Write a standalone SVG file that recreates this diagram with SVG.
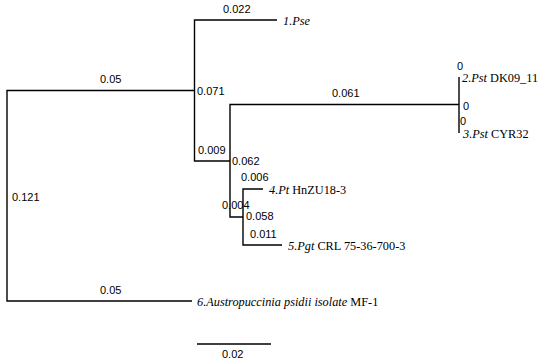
<svg xmlns="http://www.w3.org/2000/svg" width="550" height="364" viewBox="0 0 550 364">
<style>
.br{fill:none;stroke:#000;stroke-width:1.4}
.n{font-family:'Liberation Sans',Arial,sans-serif;font-size:11px;fill:#000}
.t{font-family:'Liberation Serif','DejaVu Serif',serif;font-size:12.3px;fill:#000}
.i{font-style:italic}
</style>
<rect width="550" height="364" fill="#fff"/>
<g id="connectors">
<path class="br" d="M194,90.5 H7 V301 H192"/>
<path class="br" d="M277,20 H194.5 V161 H230"/>
<path class="br" d="M459,104.5 H230 V217 H243"/>
<path class="br" d="M459,77 V133"/>
<path class="br" d="M263,189 H243 V245 H282"/>
<path class="br" d="M197,344 H271"/>
</g>
<g id="branch-labels">
<text class="n" x="100" y="83">0.05</text>
<text class="n" x="12" y="201">0.121</text>
<text class="n" x="100" y="294">0.05</text>
<text class="n" x="223" y="13">0.022</text>
<text class="n" x="197" y="95">0.071</text>
<text class="n" x="198" y="154">0.009</text>
<text class="n" x="232" y="165">0.062</text>
<text class="n" x="332" y="97">0.061</text>
<text class="n" x="457" y="70">0</text>
<text class="n" x="463" y="110">0</text>
<text class="n" x="460" y="125">0</text>
<text class="n" x="241" y="181">0.006</text>
<text class="n" x="222" y="209">0.004</text>
<text class="n" x="246" y="220">0.058</text>
<text class="n" x="250" y="238">0.011</text>
<text class="n" x="222" y="358">0.02</text>
</g>
<g id="taxon1"><text class="t" x="283" y="25"><tspan class="i">1.Pse</tspan></text></g>
<g id="taxon2"><text class="t" x="462" y="82"><tspan class="i">2.Pst</tspan> DK09_11</text></g>
<g id="taxon3"><text class="t" x="463" y="138"><tspan class="i">3.Pst</tspan> CYR32</text></g>
<g id="taxon4"><text class="t" x="269" y="194"><tspan class="i">4.Pt</tspan> HnZU18-3</text></g>
<g id="taxon5"><text class="t" x="288" y="250"><tspan class="i">5.Pgt</tspan> CRL 75-36-700-3</text></g>
<g id="taxon6"><text class="t" x="197" y="306"><tspan class="i">6.Austropuccinia psidii isolate</tspan> MF-1</text></g>
</svg>
